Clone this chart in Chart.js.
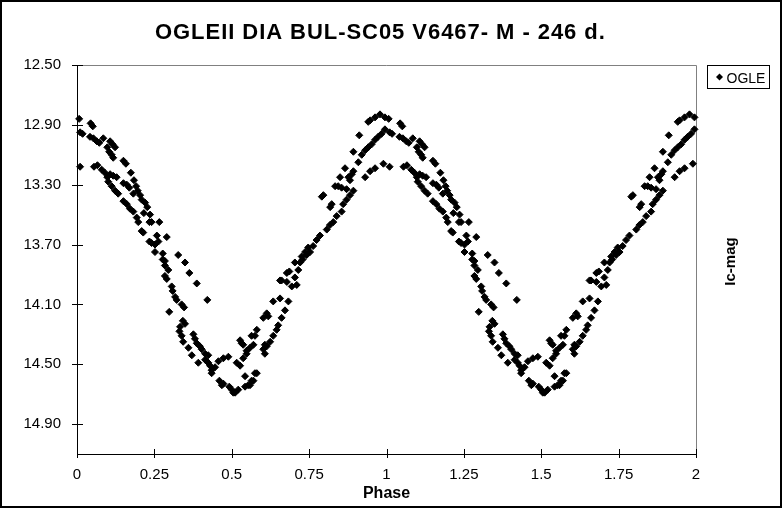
<!DOCTYPE html>
<html><head><meta charset="utf-8">
<script src="https://cdn.jsdelivr.net/npm/chart.js@4"></script>
<style>html,body{margin:0;padding:0;background:#fff}canvas{display:block}</style>
</head><body>
<canvas id="c" width="783" height="509"></canvas>
<script>
const titleText = 'OGLEII DIA BUL-SC05 V6467- M - 246 d.';
const xTitle = 'Phase';
const yTitle = 'Ic-mag';
const seriesName = 'OGLE';
const xTicks = [0, 0.25, 0.5, 0.75, 1, 1.25, 1.5, 1.75, 2];
const yTicks = [12.5, 12.9, 13.3, 13.7, 14.1, 14.5, 14.9];

// one folded cycle (phase 0..1)
const phase = [
0.007,0.010,0.018,0.010,0.044,0.051,0.042,0.053,0.064,0.072,0.085,0.055,0.066,0.080,0.090,0.098,
0.107,0.115,0.123,0.098,0.104,0.112,0.117,0.150,0.158,0.174,0.107,0.117,0.128,0.101,0.112,0.123,
0.133,0.150,0.161,0.169,0.184,0.191,0.196,0.182,0.150,0.161,0.171,0.182,0.193,0.198,0.204,0.209,
0.220,0.227,0.216,0.236,0.234,0.241,0.209,0.214,0.266,0.258,0.290,0.234,0.241,0.252,0.263,0.252,
0.277,0.327,0.349,0.284,0.277,0.284,0.295,0.363,0.284,0.290,0.387,0.306,0.309,0.317,0.322,0.338,
0.346,0.421,0.298,0.342,0.349,0.333,0.331,0.338,0.376,0.381,0.387,0.397,0.403,0.414,0.424,0.343,
0.360,0.371,0.392,0.414,0.424,0.430,0.435,0.435,0.446,0.457,0.473,0.489,0.460,0.468,0.492,0.500,
0.511,0.521,0.505,0.543,0.553,0.564,0.581,0.516,0.527,0.537,0.548,0.559,0.570,0.575,0.581,0.527,
0.532,0.607,0.607,0.613,0.618,0.575,0.570,0.559,0.543,0.473,0.602,0.613,0.624,0.634,0.564,0.537,
0.548,0.602,0.661,0.650,0.645,0.656,0.634,0.683,0.672,0.686,0.704,0.661,0.678,0.694,0.710,0.817,
0.807,0.785,0.774,0.763,0.753,0.742,0.729,0.721,0.715,0.747,0.737,0.796,0.823,0.834,0.850,0.855,
0.871,0.866,0.888,0.882,0.882,0.871,0.860,0.855,0.839,0.828,0.912,0.920,0.893,0.909,0.931,0.941,
0.952,0.963,0.973,0.984,0.995,0.931,0.947,0.963,0.990,0.941,0.947,0.963,0.979,0.995,0.893,0.877,
0.893,0.656,0.678,0.704,0.726,0.818,0.844,0.791
];
const mag = [
12.86,12.95,12.96,13.18,12.89,12.91,12.98,12.99,13.01,13.02,12.99,13.18,13.17,13.20,13.22,13.25,
13.01,13.03,13.05,13.05,13.08,13.10,13.12,13.14,13.16,13.22,13.23,13.24,13.25,13.28,13.31,13.34,
13.36,13.29,13.30,13.32,13.27,13.31,13.34,13.36,13.41,13.43,13.46,13.48,13.52,13.55,13.37,13.40,
13.42,13.45,13.49,13.50,13.55,13.55,13.61,13.62,13.55,13.64,13.65,13.68,13.69,13.70,13.68,13.75,
13.76,13.77,13.82,13.81,13.80,13.84,13.87,13.89,13.91,13.93,13.96,13.98,14.01,14.05,14.07,14.10,
14.12,14.07,14.15,14.21,14.23,14.25,14.28,14.31,14.30,14.33,14.36,14.38,14.40,14.43,14.44,14.35,
14.39,14.44,14.49,14.47,14.49,14.51,14.54,14.56,14.52,14.48,14.46,14.45,14.61,14.64,14.65,14.67,
14.69,14.67,14.69,14.58,14.64,14.61,14.56,14.49,14.51,14.46,14.43,14.39,14.37,14.31,14.27,14.34,
14.36,14.43,14.37,14.16,14.18,14.56,14.61,14.64,14.65,14.63,14.40,14.38,14.35,14.31,14.31,14.37,
14.41,14.19,14.19,14.24,14.27,14.06,14.08,14.08,14.14,13.88,13.92,13.94,13.95,13.98,13.97,13.57,
13.60,13.64,13.67,13.71,13.75,13.77,13.80,13.82,13.87,13.72,13.75,13.37,13.43,13.31,13.25,13.32,
13.33,13.19,13.23,13.27,13.37,13.40,13.43,13.48,13.51,13.55,12.97,13.10,13.08,13.15,13.07,13.05,
13.03,13.00,12.98,12.96,12.93,13.25,13.21,13.19,13.16,12.88,12.87,12.85,12.83,12.85,13.34,13.25,
13.21,13.94,13.89,13.82,13.78,13.45,13.31,13.38
];
// the picture repeats the folded cycle over two phase units
const cycleOffsets = [0, 1];

const points = [];
cycleOffsets.forEach(o => phase.forEach((p, i) => points.push({ x: p + o, y: mag[i] })));

const FONT = '"Liberation Sans", Arial, sans-serif';

const decor = {
  id: 'decor',
  beforeDraw(chart) {
    const ctx = chart.ctx;
    ctx.save();
    ctx.fillStyle = '#fff';
    ctx.fillRect(0, 0, chart.width, chart.height);
    ctx.restore();
  },
  beforeDatasetsDraw(chart) {
    const { ctx, chartArea: a, scales: { x, y } } = chart;
    ctx.save();
    ctx.lineWidth = 1;
    ctx.strokeStyle = '#808080';
    ctx.beginPath();
    ctx.moveTo(a.left, a.top + 0.5);
    ctx.lineTo(a.right + 0.5, a.top + 0.5);
    ctx.lineTo(a.right + 0.5, a.bottom);
    ctx.stroke();
    ctx.strokeStyle = '#000';
    ctx.beginPath();
    ctx.moveTo(a.left + 0.5, a.top);
    ctx.lineTo(a.left + 0.5, a.bottom + 0.5);
    ctx.lineTo(a.right + 0.5, a.bottom + 0.5);
    xTicks.forEach(v => {
      const px = Math.round(x.getPixelForValue(v)) + 0.5;
      ctx.moveTo(px, a.bottom - 5); ctx.lineTo(px, a.bottom + 4);
    });
    yTicks.forEach(v => {
      const py = Math.round(y.getPixelForValue(v)) + 0.5;
      ctx.moveTo(a.left - 5, py); ctx.lineTo(a.left + 6, py);
    });
    ctx.stroke();
    ctx.restore();
  },
  afterDraw(chart) {
    const { ctx, chartArea: a } = chart;
    ctx.save();
    ctx.fillStyle = '#000';
    // title
    ctx.font = 'bold 22px ' + FONT;
    const w = ctx.measureText(titleText).width;
    const sp = (450 - w) / (titleText.length - 1);
    ctx.letterSpacing = sp.toFixed(2) + 'px';
    ctx.textAlign = 'left';
    ctx.textBaseline = 'alphabetic';
    ctx.fillText(titleText, 155, 38.5);
    ctx.letterSpacing = '0px';
    // x title
    ctx.font = 'bold 16px ' + FONT;
    ctx.textAlign = 'center';
    ctx.fillText(xTitle, (a.left + a.right) / 2, 497.5);
    // y title on the right
    ctx.save();
    ctx.translate(734.5, (a.top + a.bottom) / 2 + 2);
    ctx.rotate(-Math.PI / 2);
    ctx.font = 'bold 15px ' + FONT;
    ctx.textAlign = 'center';
    ctx.fillText(yTitle, 0, 0);
    ctx.restore();
    // legend
    ctx.strokeStyle = '#000';
    ctx.lineWidth = 1;
    ctx.strokeRect(707.5, 65.5, 62, 23);
    ctx.beginPath();
    ctx.moveTo(719.5, 73.5); ctx.lineTo(723, 77); ctx.lineTo(719.5, 80.5); ctx.lineTo(716, 77);
    ctx.closePath();
    ctx.fill();
    ctx.font = '14px ' + FONT;
    ctx.textAlign = 'left';
    ctx.fillText(seriesName, 726.5, 82.5);
    // outer frame
    ctx.lineWidth = 2;
    ctx.strokeRect(1, 1, 780, 506);
    ctx.restore();
  }
};

new Chart(document.getElementById('c'), {
  type: 'scatter',
  data: {
    datasets: [{
      label: seriesName,
      data: points,
      pointStyle: 'rectRot',
      pointRadius: 3.5,
      pointHoverRadius: 3.5,
      borderWidth: 1,
      backgroundColor: '#000',
      borderColor: '#000',
      clip: false
    }]
  },
  options: {
    responsive: false,
    animation: false,
    events: [],
    layout: { padding: { left: 0, top: 65, right: 87, bottom: 0 } },
    plugins: { legend: { display: false }, tooltip: { enabled: false }, title: { display: false } },
    scales: {
      x: {
        type: 'linear', min: 0, max: 2,
        grid: { display: false, drawTicks: false },
        border: { display: false },
        afterBuildTicks: s => { s.ticks = xTicks.map(v => ({ value: v })); },
        afterFit: s => { s.height = 55; },
        ticks: { color: '#000', font: { family: FONT, size: 15 }, padding: 12, maxRotation: 0, autoSkip: false,
                 callback: v => String(v) }
      },
      y: {
        type: 'linear', reverse: true, min: 12.5, max: 15.1,
        grid: { display: false, drawTicks: false },
        border: { display: false },
        afterBuildTicks: s => { s.ticks = yTicks.map(v => ({ value: v })); },
        afterFit: s => { s.width = 77; },
        ticks: { color: '#000', font: { family: FONT, size: 15 }, padding: 16, autoSkip: false,
                 callback: v => v.toFixed(2) }
      }
    }
  },
  plugins: [decor]
});
</script>
</body></html>
